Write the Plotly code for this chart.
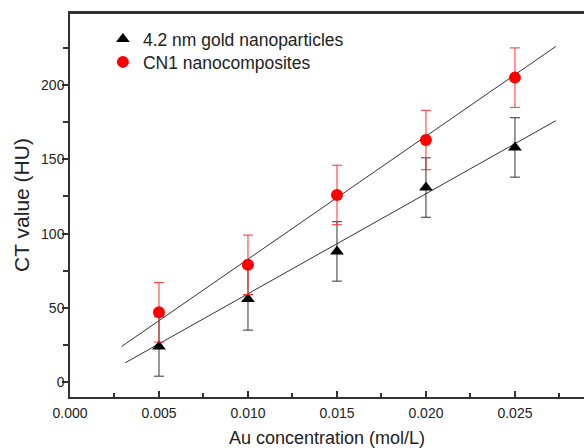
import plotly.graph_objects as go

# Data
conc = [0.005, 0.010, 0.015, 0.020, 0.025]
gold_ct = [24, 56, 88, 131, 158]
gold_err = [20, 21, 20, 20, 20]
cn1_ct = [47, 79, 126, 163, 205]
cn1_err = [20, 20, 20, 20, 20]

# Linear fit lines (end points)
gold_fit_x = [0.0031, 0.0273]
gold_fit_y = [13, 176]
cn1_fit_x = [0.0029, 0.0273]
cn1_fit_y = [24, 226]

x_ticks = [0.000, 0.005, 0.010, 0.015, 0.020, 0.025]
x_ticklabels = ["0.000", "0.005", "0.010", "0.015", "0.020", "0.025"]
y_ticks = [0, 50, 100, 150, 200]

FONT = "Liberation Sans, Arial, sans-serif"
TXT = "#222222"
AX = "#333333"

fig = go.Figure()

fig.add_trace(go.Scatter(x=gold_fit_x, y=gold_fit_y, mode="lines",
                         line=dict(color=AX, width=1), showlegend=False,
                         hoverinfo="skip"))
fig.add_trace(go.Scatter(x=cn1_fit_x, y=cn1_fit_y, mode="lines",
                         line=dict(color=AX, width=1), showlegend=False,
                         hoverinfo="skip"))

fig.add_trace(go.Scatter(
    x=conc, y=gold_ct, mode="markers", name="4.2 nm gold nanoparticles",
    marker=dict(symbol="triangle-up", size=12, color="black"),
    error_y=dict(type="data", array=gold_err, color=AX, thickness=1, width=5),
    legend="legend",
))
fig.add_trace(go.Scatter(
    x=conc, y=cn1_ct, mode="markers", name="CN1 nanocomposites",
    marker=dict(symbol="circle", size=12, color="#ff0000"),
    error_y=dict(type="data", array=cn1_err, color="#ff3030", thickness=1, width=5),
    legend="legend2",
))

leg_common = dict(xanchor="left", yanchor="middle",
                  font=dict(size=17.5, family=FONT, color=TXT),
                  bgcolor="rgba(0,0,0,0)")

fig.update_layout(
    width=584, height=448,
    margin=dict(l=70, r=0, t=13, b=51),
    paper_bgcolor="white", plot_bgcolor="white",
    font=dict(family=FONT, color=TXT, size=14),
    legend=dict(x=0.064, y=1 - (39 - 13) / 384, **leg_common),
    legend2=dict(x=0.064, y=1 - (62 - 13) / 384, **leg_common),
    xaxis=dict(
        range=[0, 0.02888], showgrid=False, zeroline=False,
        showline=True, linecolor=AX, linewidth=1.5, mirror=True,
        tickmode="array", tickvals=x_ticks, ticktext=x_ticklabels,
        ticks="inside", ticklen=6, tickwidth=1.5, tickcolor=AX,
        ticklabelstandoff=2,
        tickfont=dict(size=14, family=FONT, color=TXT),
        minor=dict(ticks="inside", ticklen=4, dtick=0.0025, tick0=0,
                   tickcolor=AX, tickwidth=1.5),
        title=dict(text="Au concentration (mol/L)", font=dict(size=18, family=FONT, color=TXT),
                   standoff=13),
    ),
    yaxis=dict(
        range=[-10, 248.5], showgrid=False, zeroline=False,
        showline=True, linecolor=AX, linewidth=1.5, mirror=False,
        tickmode="array", tickvals=y_ticks,
        ticks="outside", ticklen=6, tickwidth=1.5, tickcolor=AX,
        ticklabelstandoff=-5,
        tickfont=dict(size=14, family=FONT, color=TXT),
        minor=dict(ticks="outside", ticklen=5, dtick=25, tick0=0,
                   tickcolor=AX, tickwidth=1.5),
        title=dict(text="CT value (HU)", font=dict(size=21, family=FONT, color=TXT),
                   standoff=6),
    ),
    shapes=[dict(type="line", xref="paper", yref="paper", x0=0, x1=1, y0=1, y1=1,
                 line=dict(color="#333333", width=2))],
)

fig.write_html("out.html", config={"displayModeBar": False},
               post_script="document.body.style.margin='0px';")
